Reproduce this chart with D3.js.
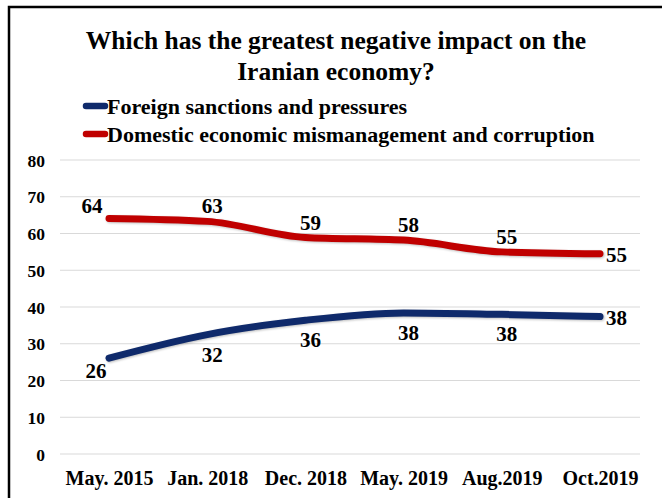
<!DOCTYPE html>
<meta charset="utf-8">
<script src="https://cdn.jsdelivr.net/npm/d3@7"></script>
<style>
  body { margin: 0; background: #fff; }
  text { font-family: "Liberation Serif", "Times New Roman", serif; font-weight: bold; fill: #000; }
</style>
<body>
<script>

var width = 662
var height = 498

var categories = ["May. 2015", "Jan. 2018", "Dec. 2018", "May. 2019", "Aug.2019", "Oct.2019"]
var foreign = [26.1, 32.5, 36.4, 38.4, 38.0, 37.4]
var foreignLabels = ["26", "32", "36", "38", "38", "38"]
var domestic = [64.1, 63.3, 58.9, 58.2, 55.0, 54.5]
var domesticLabels = ["64", "63", "59", "58", "55", "55"]
var yTicks = [0, 10, 20, 30, 40, 50, 60, 70, 80]

var series = [
  { name: "Foreign sanctions and pressures", values: foreign, labels: foreignLabels, color: "#0f2a6b", below: true },
  { name: "Domestic economic mismanagement and corruption", values: domestic, labels: domesticLabels, color: "#c00000", below: false }
]

var svg = d3.select("body").append("svg")
            .attr("width", width)
            .attr("height", height)

// frame (only left + top edges show in the crop)
svg.append("path")
   .attr("d", "M9,498 L9,7 L662,7")
   .attr("fill", "none")
   .attr("stroke", "#000")
   .attr("stroke-width", 2.5)

var x = d3.scalePoint().domain(categories).range([109, 600])
var y = d3.scaleLinear().domain([0, 80]).range([454, 160])

// gridlines
svg.append("g").selectAll("line")
   .data(yTicks)
   .join("line")
   .attr("x1", 60)
   .attr("x2", 640)
   .attr("y1", d => y(d))
   .attr("y2", d => y(d))
   .attr("stroke", "#d9d9d9")
   .attr("stroke-width", 1)

var yAxis = svg.append("g")
   .attr("transform", "translate(45,0)")
   .call(d3.axisLeft(y).tickValues(yTicks).tickSize(0).tickPadding(0))
yAxis.select(".domain").remove()
yAxis.selectAll("text").style("font-size", "17.5px").attr("dy", "0.35em")

var xAxis = svg.append("g")
   .attr("transform", "translate(0,470)")
   .call(d3.axisBottom(x).tickSize(0).tickPadding(0))
xAxis.select(".domain").remove()
xAxis.selectAll("text").style("font-size", "20px").attr("dy", "0.75em")

// title
var title = svg.append("text")
   .attr("text-anchor", "middle")
   .style("font-size", "25.5px")
title.append("tspan").attr("x", 336).attr("y", 49).text("Which has the greatest negative impact on the")
title.append("tspan").attr("x", 336).attr("y", 80).text("Iranian economy?")

// legend
var legend = svg.append("g").selectAll("g")
   .data(series)
   .join("g")
   .attr("transform", (d, i) => "translate(86," + (106 + i * 28) + ")")
legend.append("line")
   .attr("x1", 0).attr("x2", 19)
   .attr("stroke", d => d.color)
   .attr("stroke-width", 6.5)
   .attr("stroke-linecap", "round")
legend.append("text")
   .attr("x", 21)
   .attr("y", 7.5)
   .style("font-size", "22px")
   .text(d => d.name)

var line = d3.line()
   .x((d, i) => x(categories[i]))
   .y(d => y(d))
   .curve(d3.curveMonotoneX)

svg.append("g").selectAll("path")
   .data(series)
   .join("path")
   .attr("d", d => line(d.values))
   .attr("fill", "none")
   .attr("stroke", d => d.color)
   .attr("stroke-width", 7)
   .attr("stroke-linecap", "round")
   .style("filter", "drop-shadow(1px 1px 1px rgba(0,0,0,0.25))")

// data labels: red above, blue below, last one to the right
series.forEach(s => {
  var n = s.values.length
  svg.append("g").selectAll("text")
     .data(s.values)
     .join("text")
     .attr("text-anchor", (d, i) => i == n - 1 ? "start" : "middle")
     .attr("x", (d, i) => {
       if (i == n - 1) return x(categories[i]) + 6
       if (i == 0) return x(categories[i]) - (s.below ? 13 : 17)
       return x(categories[i]) + 5
     })
     .attr("y", (d, i) => {
       if (i == n - 1) return y(d) + 8
       if (i == 0) return s.below ? y(d) + 20 : y(d) - 5
       return s.below ? y(d) + 27 : y(d) - 8
     })
     .style("font-size", "21px")
     .text((d, i) => s.labels[i])
})

</script>
</body>
